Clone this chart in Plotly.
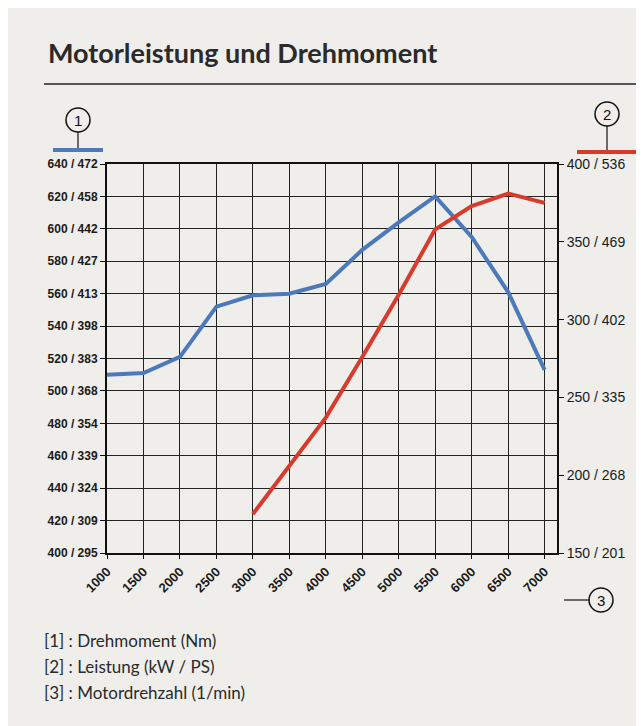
import plotly.graph_objects as go

# ---- data ----
rpm = [1000, 1500, 2000, 2500, 3000, 3500, 4000, 4500, 5000, 5500, 6000, 6500, 7000]
torque_nm = [510, 511, 521, 552, 559, 560, 566, 587, 604, 620, 595, 561, 513]
power_rpm = [3000, 3500, 4000, 4500, 5000, 5500, 6000, 6500, 7000]
power_kw = [175, 206, 237, 276, 316, 358, 373, 381, 375]

left_tickvals = [400, 420, 440, 460, 480, 500, 520, 540, 560, 580, 600, 620, 640]
left_ticktext = ["400 / 295", "420 / 309", "440 / 324", "460 / 339", "480 / 354",
                 "500 / 368", "520 / 383", "540 / 398", "560 / 413", "580 / 427",
                 "600 / 442", "620 / 458", "640 / 472"]
right_tickvals = [150, 200, 250, 300, 350, 400]
right_ticktext = ["150 / 201", "200 / 268", "250 / 335", "300 / 402", "350 / 469", "400 / 536"]
x_ticks = [1000, 1500, 2000, 2500, 3000, 3500, 4000, 4500, 5000, 5500, 6000, 6500, 7000]

title_text = "Motorleistung und Drehmoment"
legend_lines = ["[1] : Drehmoment (Nm)", "[2] : Leistung (kW / PS)", "[3] : Motordrehzahl (1/min)"]

BLUE = "#4c79b9"
RED = "#d83b2b"
BG = "#efeeeb"

W, H = 644, 726
L, R, T, B = 99, 549, 156, 545


def px(x):
    return (x - L) / (R - L)


def py(y):
    return (B - y) / (B - T)


fig = go.Figure()
fig.add_trace(go.Scatter(x=rpm, y=torque_nm, mode="lines",
                         line=dict(color=BLUE, width=4), yaxis="y", showlegend=False))
fig.add_trace(go.Scatter(x=power_rpm, y=power_kw, mode="lines",
                         line=dict(color=RED, width=4), yaxis="y2", showlegend=False))

tickfont = dict(family="Liberation Sans Narrow, Liberation Sans, Arial", size=12,
                color="#1a1a1a", weight="bold")

fig.update_layout(
    width=W, height=H,
    margin=dict(l=L, r=W - R, t=T, b=H - B),
    paper_bgcolor=BG, plot_bgcolor=BG,
    xaxis=dict(range=[1000, 7170], tickvals=x_ticks, ticktext=[str(v) for v in x_ticks],
               tickangle=-45,
               tickfont=dict(family="Liberation Sans, Arial", size=13, color="#1a1a1a", weight="bold"),
               showgrid=True, gridcolor="#222", gridwidth=1.3,
               showline=True, linecolor="#111", linewidth=2, mirror=True,
               ticks="outside", ticklen=4, tickcolor="#111", zeroline=False),
    yaxis=dict(range=[400, 640], tickvals=left_tickvals, ticktext=left_ticktext,
               tickfont=tickfont, showgrid=True, gridcolor="#222", gridwidth=1.3,
               showline=True, linecolor="#111", linewidth=2, mirror=True,
               ticks="outside", ticklen=5, tickcolor="#111", zeroline=False),
    yaxis2=dict(range=[150, 400], tickvals=right_tickvals, ticktext=right_ticktext,
                overlaying="y", side="right", showgrid=False, zeroline=False,
                tickfont=dict(family="Liberation Sans, Arial", size=14, color="#1a1a1a"),
                ticks="outside", ticklen=6, tickcolor="#111", showline=False),
)

annotations = []
shapes = []

# title and rule
annotations.append(dict(text=title_text, x=px(38), y=py(44), xref="paper", yref="paper",
                        xanchor="left", yanchor="middle", showarrow=False,
                        font=dict(family="Lato, Open Sans, sans-serif", size=27,
                                  color="#2a2a2a", weight="bold")))
shapes.append(dict(type="line", xref="paper", yref="paper", x0=px(36), x1=px(644),
                   y0=py(76), y1=py(76), line=dict(color="#222", width=1.5)))


def circle(cx, cy, r, label):
    shapes.append(dict(type="circle", xref="paper", yref="paper",
                       x0=px(cx - r), x1=px(cx + r), y0=py(cy + r), y1=py(cy - r),
                       line=dict(color="#111", width=1.5)))
    annotations.append(dict(text=label, x=px(cx), y=py(cy), xref="paper", yref="paper",
                            showarrow=False, xanchor="center", yanchor="middle",
                            font=dict(family="Liberation Sans, Arial", size=15, color="#111")))


circle(70, 112, 12, "1")
shapes.append(dict(type="line", xref="paper", yref="paper", x0=px(70), x1=px(70),
                   y0=py(124), y1=py(141), line=dict(color="#111", width=1.2)))
shapes.append(dict(type="line", xref="paper", yref="paper", x0=px(45), x1=px(95),
                   y0=py(142), y1=py(142), line=dict(color=BLUE, width=4)))

circle(599, 106, 12, "2")
shapes.append(dict(type="line", xref="paper", yref="paper", x0=px(599), x1=px(599),
                   y0=py(118), y1=py(143), line=dict(color="#111", width=1.2)))
shapes.append(dict(type="line", xref="paper", yref="paper", x0=px(569), x1=px(629),
                   y0=py(144), y1=py(144), line=dict(color=RED, width=4)))

circle(593, 592, 12, "3")
shapes.append(dict(type="line", xref="paper", yref="paper", x0=px(556), x1=px(581),
                   y0=py(592), y1=py(592), line=dict(color="#111", width=1.2)))

for i, t in enumerate(legend_lines):
    annotations.append(dict(text=t, x=px(34), y=py(632 + 26 * i), xref="paper", yref="paper",
                            xanchor="left", yanchor="middle", showarrow=False,
                            font=dict(family="Lato, Open Sans, sans-serif", size=17, color="#2a2a2a")))

fig.update_layout(annotations=annotations, shapes=shapes)
fig.write_html("out.html")
